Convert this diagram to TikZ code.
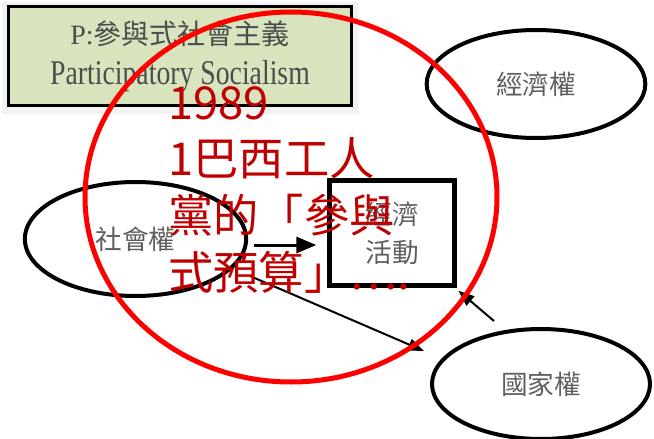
\documentclass[tikz,border=0pt]{standalone}
\usepackage{fontspec}
\setmainfont{Liberation Serif}
\newfontfamily\cjk{Noto Sans CJK TC}
\usetikzlibrary{shapes.geometric,arrows.meta}
\definecolor{titlegreen}{RGB}{216,228,190}
\definecolor{notered}{RGB}{192,0,0}
\definecolor{labelgray}{RGB}{95,95,95}

\begin{document}
\begin{tikzpicture}
[ x=0.75pt, y=-0.75pt
, title/.style={rectangle, draw, line width=2.25pt, fill=titlegreen, minimum width=257pt, minimum height=74pt, align=center, text=black!70, font=\fontsize{21}{30}\selectfont}
, power/.style={ellipse, draw, line width=3pt, text=labelgray, font=\cjk\fontsize{20}{24}\selectfont}
, activity/.style={rectangle, draw, line width=3.75pt, minimum width=93.75pt, minimum height=78.75pt, align=center, text=labelgray, font=\cjk\fontsize{20}{28.5}\selectfont}
, mainlink/.style={line width=2.25pt, -{Triangle[length=15pt, width=12pt]}}
, link/.style={line width=1.5pt, -{Triangle[length=12pt, width=9pt]}}
, note/.style={anchor=north west, align=left, inner sep=0pt, text=notered, font=\cjk\fontsize{34}{42.5}\selectfont}
]
\useasboundingbox (0,0) rectangle (654,439);
% Title:
\fill [gray!10] (2,2) rectangle (359,114);
\node (title) [title] at (180,56) {P:{\cjk 參與式社會主義}\\\scalebox{0.8}[1]{\fontsize{26}{26}\selectfont Participatory Socialism}};
% Powers and activity:
\node (econ) [power, minimum width=164pt, minimum height=81pt] at (536,84) {經濟權};
\node (social) [power, minimum width=166pt, minimum height=85.5pt] at (135.5,239) {社會權};
\node (state) [power, minimum width=163.5pt, minimum height=82.5pt] at (541,384) {國家權};
\node (activity) [activity] at (392,233) {經濟\\活動};
% Arrows:
\coordinate (fromsocial) at (250,276);
\coordinate (tostate) at (424,351);
\coordinate (fromstate) at (494,321);
\draw [mainlink] ([xshift=4pt, yshift=-4.5pt]social.east) -- ([xshift=-8pt, yshift=-9pt]activity.west);
\draw [link] (fromsocial) -- (tostate);
\draw [link] (fromstate) -- ([xshift=1pt, yshift=-2pt]activity.south east);
% Red note on top:
\draw [red, line width=3.75pt] (291,197) ellipse [x radius=154.5pt, y radius=138.75pt];
\node (note) [note] at (168,86) {1989\\1巴西工人\\黨的「參與\\式預算」….};
\end{tikzpicture}
\end{document}
